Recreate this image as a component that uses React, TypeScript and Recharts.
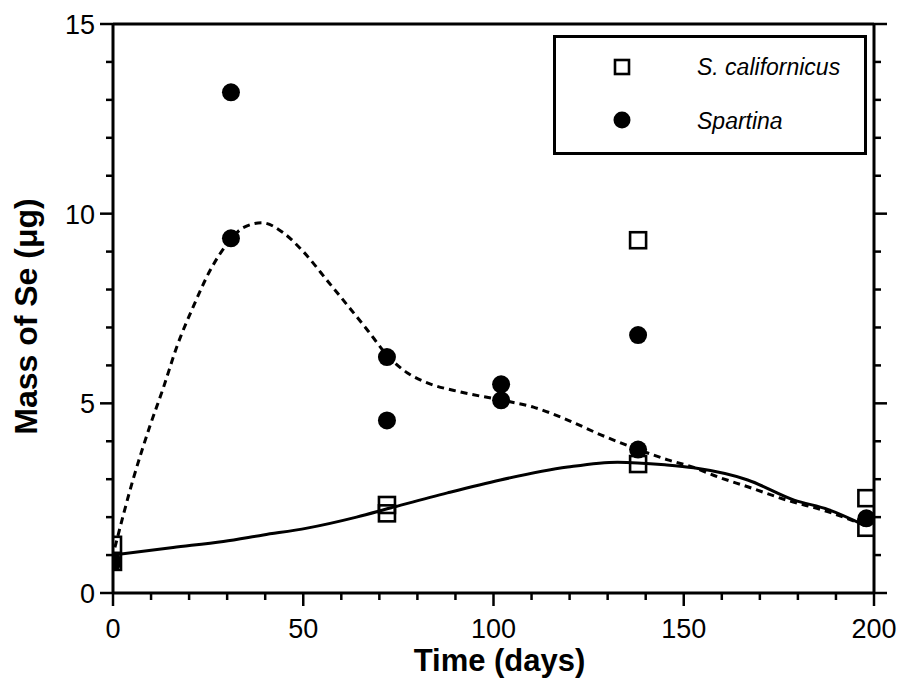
import React from 'react'
import { ComposedChart, XAxis, YAxis, Line, Scatter, Legend, Label } from 'recharts'

// measured points (days, µg)
const scalDays = [0, 0, 72, 72, 138, 138, 198, 198]
const scalMass = [1.27, 0.82, 2.32, 2.1, 9.3, 3.4, 2.5, 1.72]

const spartinaDays = [0, 31, 31, 72, 72, 102, 102, 138, 138, 198]
const spartinaMass = [0.82, 13.2, 9.35, 6.22, 4.55, 5.5, 5.08, 6.8, 3.78, 1.97]

// fitted curves
const spartinaFitDays = [0.5, 5.3, 9.7, 13.2, 16.8, 21.1, 25.5, 30.8, 34.2, 39.2, 44.7, 50, 56.6, 66.8, 72.4, 77.4, 82.6, 91.3, 101.8, 110.5, 119.5, 128.2, 136.8, 145.8, 152, 159, 166.8, 177, 188, 197.4]
const spartinaFitMass = [1.2, 3.0, 4.4, 5.4, 6.5, 7.55, 8.5, 9.3, 9.63, 9.76, 9.5, 9.0, 8.2, 6.94, 6.23, 5.8, 5.54, 5.3, 5.09, 4.9, 4.56, 4.17, 3.83, 3.51, 3.33, 3.06, 2.8, 2.45, 2.14, 1.79]

const scalFitDays = [0, 15.8, 29, 39.5, 51, 64, 72.9, 87.9, 101.8, 119.5, 132.6, 145, 152.6, 166.8, 179, 188, 197.4]
const scalFitMass = [1.0, 1.2, 1.36, 1.53, 1.71, 2.0, 2.24, 2.64, 2.98, 3.32, 3.45, 3.38, 3.3, 2.98, 2.45, 2.2, 1.79]

const xTicks = [0, 10, 20, 30, 40, 50, 60, 70, 80, 90, 100, 110, 120, 130, 140, 150, 160, 170, 180, 190, 200]
const xLabels = [0, 50, 100, 150, 200]
const yTicks = [0, 1, 2, 3, 4, 5, 6, 7, 8, 9, 10, 11, 12, 13, 14, 15]
const yLabels = [0, 5, 10, 15]

const toPoints = (xs: number[], ys: number[]) => xs.map((x, i) => ({ x, y: ys[i] }))

const scalData = toPoints(scalDays, scalMass)
const spartinaData = toPoints(spartinaDays, spartinaMass)
const spartinaFit = toPoints(spartinaFitDays, spartinaFitMass)
const scalFit = toPoints(scalFitDays, scalFitMass)

const FONT = '"Liberation Sans", Arial, Helvetica, sans-serif'
const MAJOR = 13
const MINOR = 7

const BottomTick = ({ x, y, payload }: any) => {
  const major = xLabels.includes(payload.value)
  return (
    <g>
      <line x1={x} x2={x} y1={y} y2={y + (major ? MAJOR : MINOR)} stroke="#000" strokeWidth={2.5} />
      {major && (
        <text x={x} y={y + 45} textAnchor="middle" fontFamily={FONT} fontSize={27} fill="#000">
          {payload.value}
        </text>
      )}
    </g>
  )
}

const TopTick = ({ x, y, payload }: any) => {
  const major = xLabels.includes(payload.value)
  return <line x1={x} x2={x} y1={y} y2={y - (major ? MAJOR : MINOR)} stroke="#000" strokeWidth={2.5} />
}

const LeftTick = ({ x, y, payload }: any) => {
  const major = yLabels.includes(payload.value)
  return (
    <g>
      <line x1={x} x2={x - (major ? MAJOR : MINOR)} y1={y} y2={y} stroke="#000" strokeWidth={2.5} />
      {major && (
        <text x={x - 18} y={y + 10} textAnchor="end" fontFamily={FONT} fontSize={27} fill="#000">
          {payload.value}
        </text>
      )}
    </g>
  )
}

const RightTick = ({ x, y, payload }: any) => {
  const major = yLabels.includes(payload.value)
  return <line x1={x} x2={x + (major ? MAJOR : MINOR)} y1={y} y2={y} stroke="#000" strokeWidth={2.5} />
}

const YTitle = ({ viewBox }: any) => {
  const cx = viewBox.x + 37
  const cy = viewBox.y + viewBox.height / 2 + 8
  return (
    <text x={cx} y={cy} transform={`rotate(-90 ${cx} ${cy})`} textAnchor="middle"
      fontFamily={FONT} fontWeight="bold" fontSize={32} fill="#000">
      Mass of Se (μg)
    </text>
  )
}

const XTitle = ({ viewBox }: any) => (
  <text x={viewBox.x + viewBox.width / 2 + 6} y={viewBox.y + 78} textAnchor="middle"
    fontFamily={FONT} fontWeight="bold" fontSize={31} fill="#000">
    Time (days)
  </text>
)

const Square = (p: any) => (
  <rect x={p.cx - 8} y={p.cy - 8} width={16} height={16} fill="none" stroke="#000" strokeWidth={2.6} />
)

const Dot = (p: any) => <circle cx={p.cx} cy={p.cy} r={9} fill="#000" />

const LegendBox = () => (
  <svg width={314} height={120} style={{ display: 'block' }}>
    <rect x={1.5} y={1.5} width={311} height={117} fill="#fff" stroke="#000" strokeWidth={3} />
    <rect x={62} y={25} width={14} height={14} fill="none" stroke="#000" strokeWidth={2.6} />
    <circle cx={69} cy={85} r={8.5} fill="#000" />
    <text x={144} y={40} fontFamily={FONT} fontStyle="italic" fontSize={23} fill="#000">S. californicus</text>
    <text x={144} y={94} fontFamily={FONT} fontStyle="italic" fontSize={23} fill="#000">Spartina</text>
  </svg>
)

export default function App() {
  return (
    <div style={{ position: 'absolute', left: 0, top: 0, width: 899, height: 697, background: '#fff' }}>
      <ComposedChart width={899} height={697} margin={{ top: 0, right: 0, bottom: 0, left: 0 }}>
        <XAxis xAxisId="b" dataKey="x" type="number" domain={[0, 200]} ticks={xTicks} interval={0}
          height={104} tickSize={0} tickMargin={0} tick={<BottomTick />}
          axisLine={{ stroke: '#000', strokeWidth: 3 }} allowDataOverflow>
          <Label content={<XTitle />} />
        </XAxis>
        <XAxis xAxisId="t" orientation="top" type="number" domain={[0, 200]} ticks={xTicks} interval={0}
          height={24} tickSize={0} tickMargin={0} tick={<TopTick />}
          axisLine={{ stroke: '#000', strokeWidth: 3 }} allowDataOverflow />
        <YAxis yAxisId="l" dataKey="y" type="number" domain={[0, 15]} ticks={yTicks} interval={0}
          width={113} tickSize={0} tickMargin={0} tick={<LeftTick />}
          axisLine={{ stroke: '#000', strokeWidth: 3 }} allowDataOverflow>
          <Label content={<YTitle />} />
        </YAxis>
        <YAxis yAxisId="r" orientation="right" type="number" domain={[0, 15]} ticks={yTicks} interval={0}
          width={25} tickSize={0} tickMargin={0} tick={<RightTick />}
          axisLine={{ stroke: '#000', strokeWidth: 3 }} allowDataOverflow />

        <Line xAxisId="b" yAxisId="l" data={scalFit} dataKey="y" type="monotone" stroke="#000"
          strokeWidth={3} dot={false} activeDot={false} isAnimationActive={false} legendType="none" />
        <Line xAxisId="b" yAxisId="l" data={spartinaFit} dataKey="y" type="monotone" stroke="#000"
          strokeWidth={3} strokeDasharray="7 5" dot={false} activeDot={false} isAnimationActive={false}
          legendType="none" />

        <Scatter xAxisId="b" yAxisId="l" name="S. californicus" data={scalData} dataKey="y"
          shape={Square} isAnimationActive={false} />
        <Scatter xAxisId="b" yAxisId="l" name="Spartina" data={spartinaData} dataKey="y"
          shape={Dot} isAnimationActive={false} />

        <Legend layout="vertical" align="center" verticalAlign="middle" content={<LegendBox />}
          wrapperStyle={{ position: 'absolute', left: 553, top: 35, width: 314, height: 120 }} />
      </ComposedChart>
    </div>
  )
}
